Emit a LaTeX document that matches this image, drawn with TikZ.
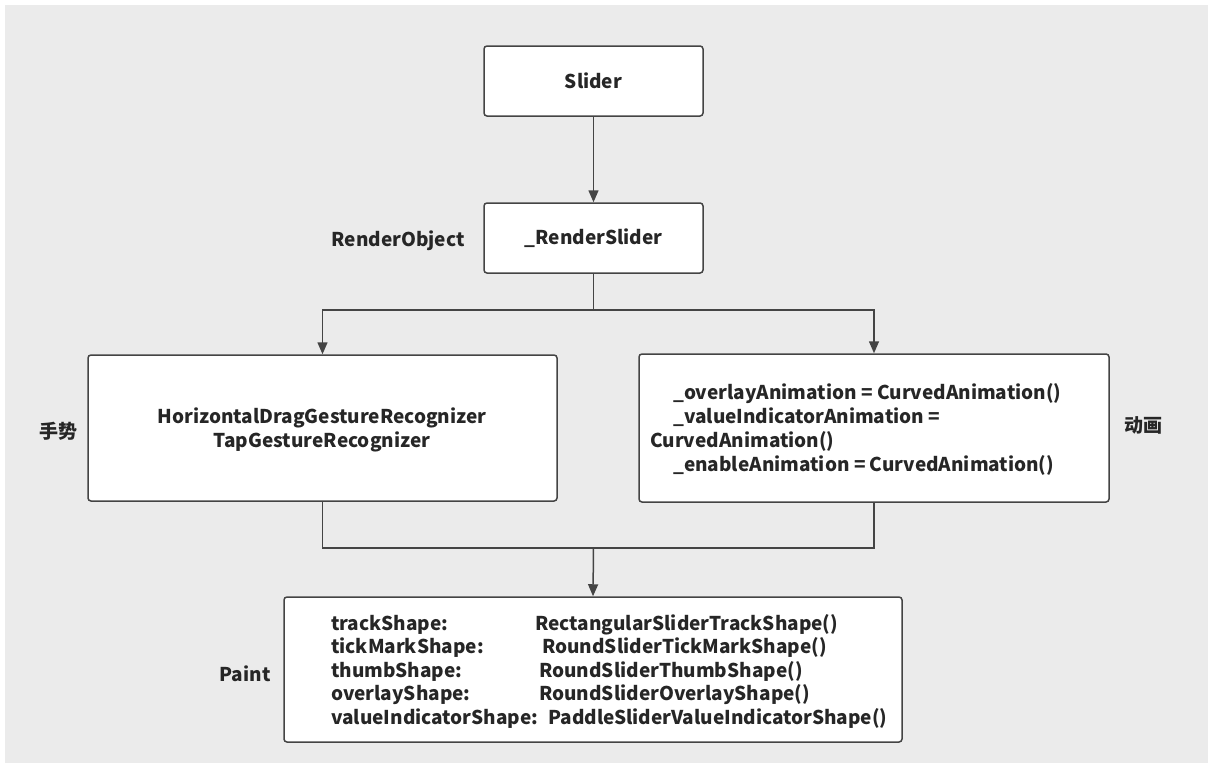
\documentclass[tikz,border=0pt]{standalone}
\usepackage{fontspec}
\setmainfont{Noto Sans CJK SC}
\usetikzlibrary{arrows.meta}
\definecolor{bgc}{HTML}{EBEBEB}
\definecolor{ln}{HTML}{444444}
\definecolor{tx}{HTML}{262626}
\tikzset{
  box/.style={draw=ln, fill=white, line width=1.5pt, rounded corners=3pt, inner sep=0pt},
  lbl/.style={text=tx, font=\fontsize{19}{24}\selectfont\bfseries, inner sep=0pt},
  conn/.style={draw=ln, line width=1.5pt},
  arr/.style={conn, -{Triangle[length=12pt,width=10pt]}},
}
\begin{document}
\begin{tikzpicture}[x=1pt,y=-1pt]
\fill[white] (0,0) rectangle (1208,763);
\fill[bgc] (5,5) rectangle (1208,763);
\useasboundingbox (0,0) rectangle (1208,763);

\node[box, minimum width=219pt, minimum height=70pt] (slider) at (593.5,81) {};
\node[lbl] (slidert) at (slider.center) {Slider};
\node[box, minimum width=219pt, minimum height=70pt] (render) at (593.5,238) {};
\node[lbl] (rendert) at (render.center) {\_RenderSlider};
\node[box, minimum width=469pt, minimum height=146pt] (gest) at (322.5,428) {};
\node[lbl, align=center] (gestt) at (322,430) {HorizontalDragGestureRecognizer\\TapGestureRecognizer};
\node[box, minimum width=470pt, minimum height=148pt] (anim) at (874,428) {};
\node[lbl, align=left, anchor=west] (animt) at (650,429) {\hspace*{23pt}\_overlayAnimation = CurvedAnimation()\\\hspace*{23pt}\_valueIndicatorAnimation =\\CurvedAnimation()\\\hspace*{23pt}\_enableAnimation = CurvedAnimation()};
\node[box, minimum width=618pt, minimum height=145pt] (paint) at (593,669.5) {};
\node[lbl, align=left, anchor=west, font=\fontsize{19}{23.5}\selectfont\bfseries] (paintt) at (331,671) {%
\makebox[204pt][l]{trackShape:}RectangularSliderTrackShape()\\
\makebox[211pt][l]{tickMarkShape:}RoundSliderTickMarkShape()\\
\makebox[208pt][l]{thumbShape:}RoundSliderThumbShape()\\
\makebox[208pt][l]{overlayShape:}RoundSliderOverlayShape()\\
\makebox[217pt][l]{valueIndicatorShape:}PaddleSliderValueIndicatorShape()};

\node[lbl] (lro) at (398,241) {RenderObject};
\node[lbl] (lg) at (58,431) {手势};
\node[lbl] (la) at (1143,425) {动画};
\node[lbl] (lp) at (245,674) {Paint};

\coordinate (j1) at (593.5,310);
\coordinate (j2) at (593.5,548);
\draw[arr] (slider) -- (render);
\draw[arr] (render.south) -- (j1) -| (gest.north);
\draw[arr] (j1) -| (anim.north);
\draw[conn] (gest.south) |- (j2);
\draw[conn] (anim.south) |- (j2);
\draw[arr] (j2) -- (paint.north);
\end{tikzpicture}
\end{document}
